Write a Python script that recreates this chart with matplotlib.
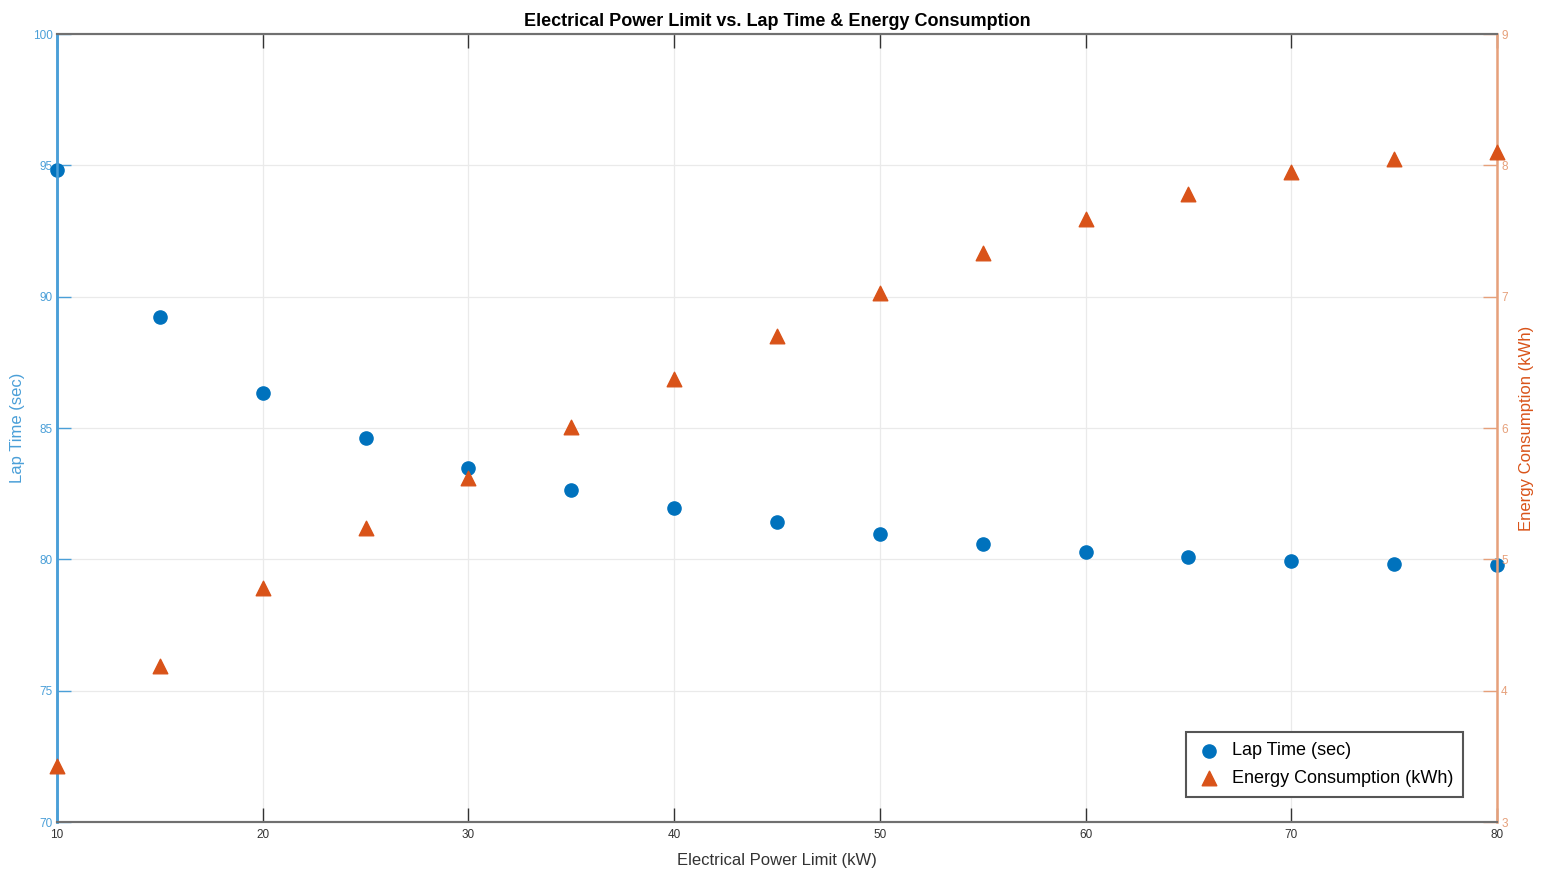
import numpy as np
import matplotlib
matplotlib.use("Agg")
import matplotlib.pyplot as plt

plt.rcParams['font.family'] = ['Liberation Sans', 'DejaVu Sans']

# data
power_kw = [10, 15, 20, 25, 30, 35, 40, 45, 50, 55, 60, 65, 70, 75, 80]
lap_time = [94.82, 89.23, 86.33, 84.62, 83.48, 82.64, 81.96, 81.42,
            80.97, 80.59, 80.28, 80.09, 79.94, 79.83, 79.79]
energy = [3.43, 4.19, 4.78, 5.24, 5.62, 6.01, 6.37, 6.70,
          7.03, 7.33, 7.59, 7.78, 7.95, 8.05, 8.10]

x_ticks = [10, 20, 30, 40, 50, 60, 70, 80]
left_ticks = [70, 75, 80, 85, 90, 95, 100]
right_ticks = [3, 4, 5, 6, 7, 8, 9]

blue = '#0072BD'
orange = '#D95319'
blue_axis = '#4A9FD8'
orange_axis = '#E6A07A'

fig = plt.figure(figsize=(15.46, 8.73), dpi=100)
ax = fig.add_axes([0.0369, 0.0584, 0.9314, 0.9026])
ax2 = ax.twinx()

h1 = ax.scatter(power_kw, lap_time, s=90, color=blue, marker='o',
                zorder=5, clip_on=False, label='Lap Time (sec)')
h2 = ax2.scatter(power_kw, energy, s=110, color=orange, marker='^',
                 zorder=5, clip_on=False, label='Energy Consumption (kWh)')

ax.set_xlim(10, 80)
ax.set_ylim(70, 100)
ax2.set_ylim(3, 9)
ax.set_xticks(x_ticks)
ax.set_yticks(left_ticks)
ax2.set_yticks(right_ticks)

ax.grid(True, color='#EAEAEA', linewidth=0.9)
ax.set_axisbelow(True)

ax.tick_params(axis='x', direction='in', length=10, width=1, top=True,
               labelsize=8.5, colors='#333333', pad=5)
ax.tick_params(axis='y', direction='in', length=10, width=1,
               labelsize=8.5, colors=blue_axis, pad=3)
ax2.tick_params(axis='y', direction='in', length=10, width=1,
                labelsize=8.5, colors=orange_axis, pad=3)

for a in (ax, ax2):
    a.spines['top'].set_color('#707070')
    a.spines['bottom'].set_color('#707070')
    a.spines['top'].set_linewidth(1.5)
    a.spines['bottom'].set_linewidth(1.5)
ax.spines['left'].set_color(blue_axis)
ax.spines['left'].set_linewidth(1.8)
ax2.spines['left'].set_color(blue_axis)
ax2.spines['left'].set_linewidth(1.8)
ax2.spines['right'].set_color(orange_axis)
ax2.spines['right'].set_linewidth(1.8)
ax.spines['right'].set_visible(False)

ax.set_xlabel('Electrical Power Limit (kW)', fontsize=12, color='#333333', labelpad=9)
ax.set_ylabel('Lap Time (sec)', fontsize=12, color=blue_axis, labelpad=6)
ax2.set_ylabel('Energy Consumption (kWh)', fontsize=12, color=orange, labelpad=8)
ax.set_title('Electrical Power Limit vs. Lap Time & Energy Consumption',
             fontsize=13, fontweight='bold', pad=6)

leg = ax2.legend(handles=[h1, h2], loc='lower right',
                 bbox_to_anchor=(0.9764, 0.0317), borderaxespad=0,
                 fontsize=13, fancybox=False, framealpha=1,
                 edgecolor='#555555', handletextpad=0.5, borderpad=0.55,
                 labelspacing=0.6, handlelength=1.5)
leg.get_frame().set_linewidth(1.5)

fig.savefig('out.png', dpi=100)
